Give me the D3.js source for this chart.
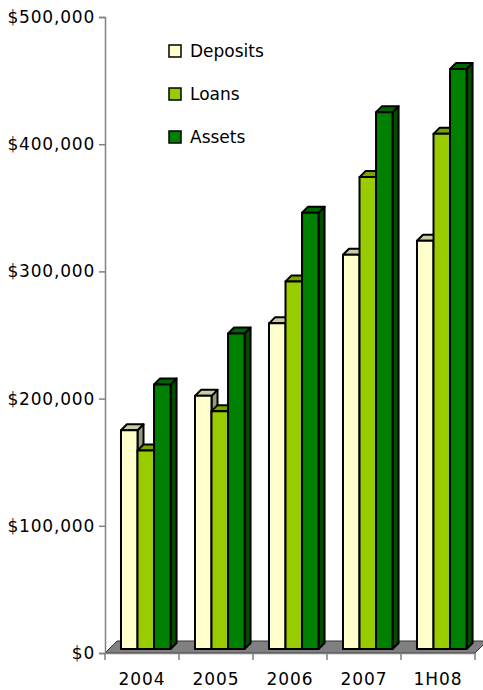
<!DOCTYPE html>
<html>
<head>
<meta charset="utf-8">
<script src="https://cdn.jsdelivr.net/npm/d3@7"></script>
<style>
  html, body { margin: 0; padding: 0; background: #fff; }
  svg { display: block; }
  text { font-family: "DejaVu Sans", sans-serif; fill: #000; }
</style>
</head>
<body>
<svg id="chart" width="483" height="690"></svg>
<script>
// Categories and series values (in dollars)
const categories = ["2004", "2005", "2006", "2007", "1H08"];
const seriesNames = ["Deposits", "Loans", "Assets"];
const deposits = [172000, 199000, 256000, 310000, 321000];
const loans    = [156000, 187000, 289000, 371000, 405000];
const assets   = [208000, 248000, 343000, 422000, 456000];
const yTicks   = [0, 100000, 200000, 300000, 400000, 500000];

const seriesValues = [deposits, loans, assets];

// Face colours per series: front, top, side
const palette = {
  Deposits: { front: "#FFFFCC", top: "#CCCCA3", side: "#99997A" },
  Loans:    { front: "#99CC00", top: "#7AA300", side: "#5C7A00" },
  Assets:   { front: "#008000", top: "#006600", side: "#004D00" }
};

const svg = d3.select("#chart");

const plotLeft = 105, plotRight = 475, plotTop = 17, plotBottom = 653;

const x0 = d3.scaleBand().domain(categories).range([plotLeft, plotRight]).paddingInner(0).paddingOuter(0);
const y = d3.scaleLinear().domain([0, 500000]).range([plotBottom, plotTop]);

const bw = x0.bandwidth();
const x1 = d3.scaleBand().domain(seriesNames)
  .range([bw * 0.216, bw * 0.216 + bw * 0.67]).paddingInner(0).paddingOuter(0);

// Depth of the floor and bars (oblique projection)
const floorD = 12;
const barShift = 4;   // bars stand slightly behind the front edge of the floor
const barD = 6;       // bar depth

// Floor
svg.append("polygon")
  .attr("points", [
    [plotLeft, plotBottom],
    [plotLeft + floorD, plotBottom - floorD],
    [plotRight + floorD, plotBottom - floorD],
    [plotRight, plotBottom]
  ].map(p => p.join(",")).join(" "))
  .attr("fill", "#808080")
  .attr("stroke", "#333")
  .attr("stroke-width", 1);

// Bars: drawn category by category, left to right, so front faces overlap sides correctly
const barsG = svg.append("g");
categories.forEach((cat, ci) => {
  seriesNames.forEach((s, si) => {
    const v = seriesValues[si][ci];
    const xl = x0(cat) + x1(s);
    const w = x1.bandwidth();
    const yb = y(0) - barShift;
    const yt = y(v) - barShift;
    const c = palette[s];
    const g = barsG.append("g")
      .attr("stroke", "#000")
      .attr("stroke-width", 2)
      .attr("stroke-linejoin", "round");
    // side face
    g.append("polygon")
      .attr("points", [[xl + w, yt], [xl + w + barD, yt - barD], [xl + w + barD, yb - barD], [xl + w, yb]]
        .map(p => p.join(",")).join(" "))
      .attr("fill", c.side);
    // top face
    g.append("polygon")
      .attr("points", [[xl, yt], [xl + barD, yt - barD], [xl + w + barD, yt - barD], [xl + w, yt]]
        .map(p => p.join(",")).join(" "))
      .attr("fill", c.top);
    // front face
    g.append("rect")
      .attr("x", xl).attr("y", yt)
      .attr("width", w).attr("height", yb - yt)
      .attr("fill", c.front);
  });
});

// Y axis
const yAxis = svg.append("g")
  .attr("transform", `translate(${plotLeft},0)`)
  .call(d3.axisLeft(y).tickValues(yTicks).tickFormat(d3.format("$,")).tickSize(6).tickPadding(4));
yAxis.select(".domain").attr("stroke", "#808080").attr("stroke-width", 1.5);
yAxis.selectAll(".tick line").attr("stroke", "#808080").attr("stroke-width", 1.5);
yAxis.selectAll(".tick text")
  .style("font-family", "DejaVu Sans, sans-serif")
  .style("font-size", "17px")
  .style("letter-spacing", "0.8px")
  .attr("fill", "#000");

// X axis
const xAxis = svg.append("g")
  .attr("transform", `translate(0,${plotBottom})`)
  .call(d3.axisBottom(x0).tickSize(0).tickPadding(20));
xAxis.select(".domain").attr("stroke", "#808080").attr("stroke-width", 1.5);
xAxis.selectAll(".tick text")
  .style("font-family", "DejaVu Sans, sans-serif")
  .style("font-size", "17px")
  .style("letter-spacing", "0.9px")
  .attr("fill", "#000");

// Category separator ticks
const sepPos = categories.map(c => x0(c)).concat([plotRight]);
svg.append("g").selectAll("line").data(sepPos).join("line")
  .attr("x1", d => d).attr("x2", d => d)
  .attr("y1", plotBottom).attr("y2", plotBottom + 7)
  .attr("stroke", "#808080").attr("stroke-width", 1.5);

// Legend
const legendY = d3.scalePoint().domain(seriesNames).range([51, 137]);
const legend = svg.append("g");
seriesNames.forEach(s => {
  const cy = legendY(s);
  legend.append("rect")
    .attr("x", 169).attr("y", cy - 6)
    .attr("width", 12).attr("height", 12)
    .attr("fill", palette[s].front)
    .attr("stroke", "#000").attr("stroke-width", 1.5);
  legend.append("text")
    .attr("x", 190).attr("y", cy)
    .attr("dy", "0.36em")
    .style("font-size", "17px")
    .text(s);
});
</script>
</body>
</html>
